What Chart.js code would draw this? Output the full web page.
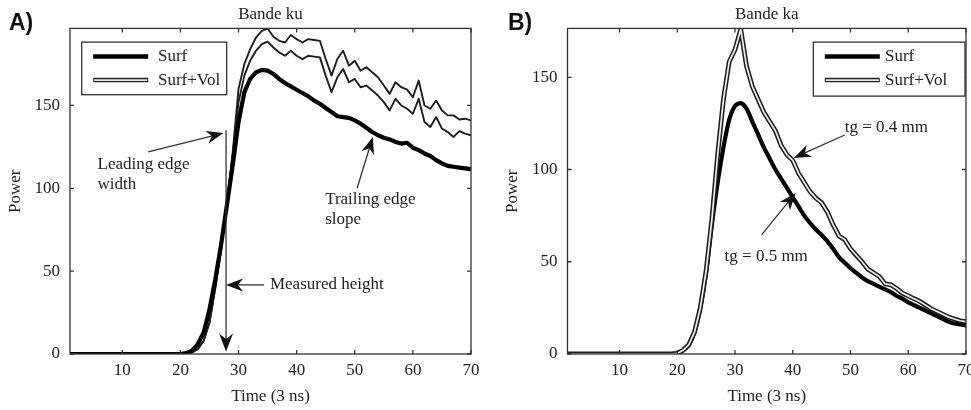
<!DOCTYPE html>
<html>
<head>
<meta charset="utf-8">
<title>Bande ku / Bande ka</title>
<script src="https://cdn.jsdelivr.net/npm/chart.js@4.4.0/dist/chart.umd.min.js"></script>
<style>
  html, body { margin: 0; padding: 0; background: #fff; overflow: hidden; }
  body { width: 971px; height: 410px; position: relative; }
  .panel { position: absolute; top: 0; }
  .tag { position: absolute; top: 11px; font: bold 23px "Liberation Sans", Arial, sans-serif; line-height: 1; color: #111; }
</style>
</head>
<body>
<div class="panel" style="left:0"><canvas id="chartKu" width="490" height="410"></canvas></div>
<div class="panel" style="left:490px"><canvas id="chartKa" width="501" height="410"></canvas></div>
<div class="tag" style="left:9px">A)</div>
<div class="tag" style="left:508px">B)</div>

<script>
// --------------------- DATOS ---------------------
const tiempo = [
  1, 2, 3, 4, 5, 6, 7, 8, 9, 10, 11, 12, 13, 14, 15, 16, 17, 18, 19, 20,
  21, 22, 23, 24, 25, 26, 27, 28, 29, 30, 31, 32, 33, 34, 35, 36, 37, 38, 39, 40,
  41, 42, 43, 44, 45, 46, 47, 48, 49, 50, 51, 52, 53, 54, 55, 56, 57, 58, 59, 60,
  61, 62, 63, 64, 65, 66, 67, 68, 69, 70
];
const ticksTiempo = [10, 20, 30, 40, 50, 60, 70];
const ticksPotencia = [0, 50, 100, 150];
const etiquetas = ['Surf', 'Surf+Vol'];

// banda ku
const kuSurf = [
  0, 0, 0, 0, 0, 0, 0, 0, 0, 0, 0, 0, 0, 0, 0, 0, 0, 0, 0, 0,
  0.5, 2, 6, 13, 27, 45, 66, 90, 114, 140, 158, 166, 170, 171.5, 171, 169, 166, 163.5, 161.5, 159.5,
  157.5, 155.5, 153, 151, 148.5, 146, 143.5, 143, 142.5, 141, 139, 136.5, 134, 132, 130.5, 129.5, 128, 127, 127.5, 124.5,
  123, 121, 119.5, 117, 115, 113.5, 113, 112.5, 112, 111.5
];
const kuSurfVolA = [
  0, 0, 0, 0, 0, 0, 0, 0, 0, 0, 0, 0, 0, 0, 0, 0, 0, 0, 0, 0,
  0.3, 1, 3, 8, 19, 40, 63, 90, 122, 160, 175, 184, 191, 195, 196.5, 191.5, 189, 188, 192.5, 190,
  188, 190, 189.5, 189, 178, 168, 178, 183, 174, 177, 171, 173, 170, 167, 162, 157, 164, 161, 159.5, 155,
  165, 150, 148, 153, 147, 144, 144, 141.5, 142, 141
];
const kuSurfVolB = [
  0, 0, 0, 0, 0, 0, 0, 0, 0, 0, 0, 0, 0, 0, 0, 0, 0, 0, 0, 0,
  0.3, 1, 3, 8, 19, 40, 63, 90, 120, 152, 168, 177, 183, 187, 188.5, 185, 182, 180, 183, 180,
  178, 180, 179.5, 179, 168, 158, 167, 172, 164, 166, 161, 162, 159, 156, 152, 147, 154, 150, 148, 145,
  154, 140, 137, 143, 136, 134, 131, 134.5, 133, 132
];

// banda ka
const kaSurf = [
  0, 0, 0, 0, 0, 0, 0, 0, 0, 0, 0, 0, 0, 0, 0, 0, 0, 0, 0, 0.3,
  2, 5, 12, 25, 44, 70, 93, 112, 127, 134.5, 136, 133, 126, 119, 112, 106, 100, 95, 90, 85,
  80, 75, 71, 67.5, 64.5, 61, 57, 52.5, 49.5, 46.5, 44, 41.5, 39.5, 38, 36.5, 35, 33.5, 31.5, 30, 28,
  26.5, 25, 23.5, 22, 20.5, 19, 17.5, 16.5, 16, 15.5
];
const kaSurfVol = [
  0, 0, 0, 0, 0, 0, 0, 0, 0, 0, 0, 0, 0, 0, 0, 0, 0, 0, 0, 0.3,
  2, 5, 12, 25, 45, 73, 108, 138, 158.5, 165, 176, 156, 145, 138, 131, 126, 121, 113, 108, 105,
  98, 93, 88, 84.5, 82, 77, 70, 64, 62, 57, 53.5, 50, 46, 44, 42, 38, 37.5, 35.5, 33, 31.5,
  30, 28.5, 26.5, 24.5, 23, 21.5, 20, 19, 18, 17.5
];

const serif = '"Liberation Serif", "DejaVu Serif", serif';
const tinta = '#222';

// pasa un arreglo de valores a puntos {x, y}
function puntos(valores) {
  return valores.map((v, i) => ({ x: tiempo[i], y: v }));
}



// --------------------- FLECHAS DE ANOTACION ---------------------
function flecha(ctx, x1, y1, x2, y2, largo, ancho) {
  const ang = Math.atan2(y2 - y1, x2 - x1);
  ctx.beginPath();
  ctx.moveTo(x1, y1);
  ctx.lineTo(x2 - Math.cos(ang) * largo * 0.6, y2 - Math.sin(ang) * largo * 0.6);
  ctx.stroke();
  // punta con muesca
  ctx.save();
  ctx.translate(x2, y2);
  ctx.rotate(ang);
  ctx.beginPath();
  ctx.moveTo(0, 0);
  ctx.lineTo(-largo, -ancho);
  ctx.lineTo(-largo * 0.7, 0);
  ctx.lineTo(-largo, ancho);
  ctx.closePath();
  ctx.fill();
  ctx.restore();
}



// --------------------- PLUGINS ---------------------
// marco del area con marcas de ticks hacia dentro en los 4 lados
const marco = {
  id: 'marco',
  afterDatasetsDraw(chart) {
    const { ctx, chartArea: a, scales: { x, y } } = chart;
    ctx.save();
    ctx.strokeStyle = '#333';
    ctx.lineWidth = 1.3;
    ctx.strokeRect(a.left, a.top, a.right - a.left, a.bottom - a.top);
    ctx.beginPath();
    x.ticks.forEach(t => {
      const px = x.getPixelForValue(t.value);
      ctx.moveTo(px, a.bottom); ctx.lineTo(px, a.bottom - 4);
      ctx.moveTo(px, a.top); ctx.lineTo(px, a.top + 4);
    });
    y.ticks.forEach(t => {
      const py = y.getPixelForValue(t.value);
      ctx.moveTo(a.left, py); ctx.lineTo(a.left + 4, py);
      ctx.moveTo(a.right, py); ctx.lineTo(a.right - 4, py);
    });
    ctx.stroke();
    ctx.restore();
  }
};

// leyenda con caja, linea gruesa para Surf y linea doble para Surf+Vol
const cajaLeyenda = {
  id: 'cajaLeyenda',
  afterDraw(chart, args, opts) {
    const { ctx, chartArea: a } = chart;
    const x0 = opts.derecha ? a.right - 1 - opts.ancho : a.left + opts.dx;
    const y0 = a.top + opts.dy;
    ctx.save();
    ctx.fillStyle = '#fff';
    ctx.fillRect(x0, y0, opts.ancho, opts.alto);
    ctx.strokeStyle = '#333';
    ctx.lineWidth = 1.3;
    ctx.strokeRect(x0, y0, opts.ancho, opts.alto);

    const l1 = x0 + 11.5, l2 = x0 + 66.5;
    const f1 = y0 + 14.5, f2 = y0 + 38;
    ctx.lineCap = 'butt';
    ctx.strokeStyle = '#000';
    ctx.lineWidth = 4.5;
    ctx.beginPath(); ctx.moveTo(l1, f1); ctx.lineTo(l2, f1); ctx.stroke();
    ctx.strokeStyle = tinta;
    ctx.lineWidth = 4.5;
    ctx.beginPath(); ctx.moveTo(l1, f2); ctx.lineTo(l2, f2); ctx.stroke();
    ctx.strokeStyle = '#e6e6e6';
    ctx.lineWidth = 1.6;
    ctx.beginPath(); ctx.moveTo(l1 + 1, f2); ctx.lineTo(l2 - 1, f2); ctx.stroke();

    ctx.fillStyle = tinta;
    ctx.font = '17px ' + serif;
    ctx.textBaseline = 'middle';
    ctx.textAlign = 'left';
    ctx.fillText(etiquetas[0], x0 + opts.texto, f1);
    ctx.fillText(etiquetas[1], x0 + opts.texto, f2);
    ctx.restore();
  }
};

// textos y flechas colocados en unidades de los ejes
const notas = {
  id: 'notas',
  afterDraw(chart, args, opts) {
    const { ctx, scales: { x, y } } = chart;
    ctx.save();
    ctx.fillStyle = tinta;
    ctx.font = '17px ' + serif;
    ctx.textBaseline = 'middle';
    ctx.textAlign = 'left';
    (opts.textos || []).forEach(t => {
      ctx.fillText(t.texto, x.getPixelForValue(t.x), y.getPixelForValue(t.y));
    });
    ctx.strokeStyle = '#333';
    ctx.fillStyle = '#111';
    ctx.lineWidth = 1.3;
    (opts.flechas || []).forEach(f => {
      flecha(ctx,
        x.getPixelForValue(f.de[0]), y.getPixelForValue(f.de[1]),
        x.getPixelForValue(f.a[0]), y.getPixelForValue(f.a[1]),
        f.largo || 17, f.ancho || 6.5);
    });
    ctx.restore();
  }
};



// --------------------- CREACION DE CADA PANEL ---------------------
function crearPanel(id, cfg) {
  const fuente = { family: serif, size: 17 };
  return new Chart(document.getElementById(id), {
    type: 'line',
    data: { datasets: cfg.datasets },
    options: {
      responsive: false,
      animation: false,
      layout: { padding: { left: 0, right: cfg.padDerecha, top: 0, bottom: 0 } },
      elements: {
        point: { radius: 0 },
        line: { tension: 0, borderJoinStyle: 'round', borderCapStyle: 'round' }
      },
      plugins: {
        legend: { display: false },
        tooltip: { enabled: false },
        title: {
          display: true,
          text: cfg.titulo,
          fullSize: false,
          color: tinta,
          font: { family: serif, size: 17, weight: 'normal' },
          padding: { top: 4, bottom: 4 }
        },
        cajaLeyenda: cfg.leyenda,
        notas: cfg.notas
      },
      scales: {
        x: {
          type: 'linear',
          min: 1,
          max: 70,
          afterBuildTicks: s => { s.ticks = ticksTiempo.map(v => ({ value: v })); },
          afterFit: s => { s.height = 56; },
          grid: { display: false, drawTicks: false },
          border: { display: false },
          ticks: { color: tinta, font: fuente, padding: 6, maxRotation: 0, autoSkip: false },
          title: { display: true, text: 'Time (3 ns)', color: tinta, font: fuente, padding: { top: 0, bottom: 3 } }
        },
        y: {
          type: 'linear',
          min: 0,
          max: cfg.maxY,
          afterBuildTicks: s => { s.ticks = ticksPotencia.map(v => ({ value: v })); },
          afterFit: s => { s.width = cfg.anchoY; },
          grid: { display: false, drawTicks: false },
          border: { display: false },
          ticks: { color: tinta, font: fuente, padding: 10 },
          title: { display: true, text: 'Power', color: tinta, font: fuente, padding: { top: cfg.padTituloY, bottom: 0 } }
        }
      }
    },
    plugins: [marco, cajaLeyenda, notas]
  });
}



// --------------------- PANEL A: BANDE KU ---------------------
crearPanel('chartKu', {
  titulo: 'Bande ku',
  maxY: 196.5,
  anchoY: 70,
  padDerecha: 19,
  padTituloY: 5,
  datasets: [
    { label: etiquetas[0], data: puntos(kuSurf), borderColor: '#000', borderWidth: 4.2, clip: 0, order: 0 },
    { label: etiquetas[1], data: puntos(kuSurfVolA), borderColor: '#1e1e1e', borderWidth: 1.9, clip: 0, order: 1 },
    { label: etiquetas[1], data: puntos(kuSurfVolB), borderColor: '#1e1e1e', borderWidth: 1.9, clip: 0, order: 2 }
  ],
  leyenda: { derecha: false, dx: 11.7, dy: 13.7, ancho: 145, alto: 52.6, texto: 76.3 },
  notas: {
    textos: [
      { x: 5.74, y: 114.5, texto: 'Leading edge' },
      { x: 5.74, y: 102, texto: 'width' },
      { x: 44.9, y: 93, texto: 'Trailing edge' },
      { x: 44.9, y: 81, texto: 'slope' },
      { x: 35.4, y: 41.7, texto: 'Measured height' }
    ],
    flechas: [
      { de: [14.46, 122], a: [27.4, 133.3] },
      { de: [50.4, 100], a: [53.1, 131] },
      { de: [34.4, 41.7], a: [27.85, 41.7] },
      { de: [27.85, 135], a: [27.85, 1.5], largo: 18, ancho: 7 }
    ]
  }
});



// --------------------- PANEL B: BANDE KA ---------------------
crearPanel('chartKa', {
  titulo: 'Bande ka',
  maxY: 176.5,
  anchoY: 77.5,
  padDerecha: 25,
  padTituloY: 12.5,
  datasets: [
    // linea doble: trazo oscuro ancho con nucleo claro encima
    { label: etiquetas[1], data: puntos(kaSurfVol), borderColor: '#eeeeee', borderWidth: 1.7, clip: 0, order: 0, borderJoinStyle: 'miter' },
    { label: etiquetas[1], data: puntos(kaSurfVol), borderColor: '#1e1e1e', borderWidth: 4.8, clip: 0, order: 1, borderJoinStyle: 'miter' },
    { label: etiquetas[0], data: puntos(kaSurf), borderColor: '#000', borderWidth: 4.2, clip: 0, order: 2, tension: 0.25 }
  ],
  leyenda: { derecha: true, dy: 13.7, ancho: 151.7, alto: 54, texto: 71.7 },
  notas: {
    textos: [
      { x: 49, y: 123, texto: 'tg = 0.4 mm' },
      { x: 28.2, y: 52.7, texto: 'tg = 0.5 mm' }
    ],
    flechas: [
      { de: [49, 118.7], a: [40.2, 106.3] },
      { de: [34.6, 64.6], a: [40.5, 87.3] }
    ]
  }
});
</script>
</body>
</html>
